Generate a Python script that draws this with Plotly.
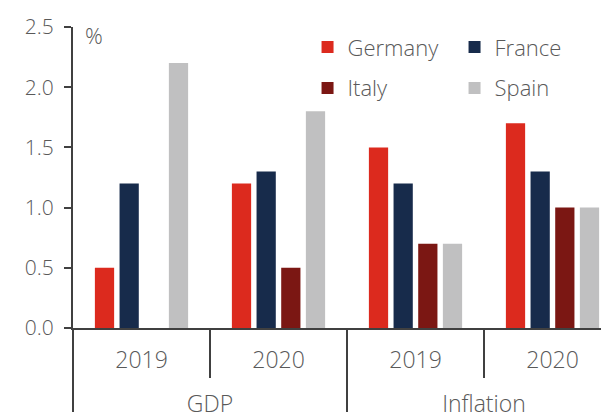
import plotly.graph_objects as go

# categories
indicators = ["GDP", "GDP", "Inflation", "Inflation"]
years = ["2019", "2020", "2019", "2020"]

# values, %
germany = [0.5, 1.2, 1.5, 1.7]
france = [1.2, 1.3, 1.2, 1.3]
italy = [0.0, 0.5, 0.7, 1.0]
spain = [2.2, 1.8, 0.7, 1.0]

y_ticks = [0.0, 0.5, 1.0, 1.5, 2.0, 2.5]
y_ticktext = ["0.0", "0.5", "1.0", "1.5", "2.0", "2.5"]

txt = "#595959"
axcol = "#404040"
font_family = "'Open Sans', sans-serif"

# invisible tall spacer around the year labels pushes the GDP/Inflation row down
pad = "<span style='font-size:38px'>\u00a0</span>"
year_labels = [pad + y + pad for y in years]

fig = go.Figure()
series = [("Germany", germany, "#DC2A1E", "legend"),
          ("France", france, "#172B4B", "legend"),
          ("Italy", italy, "#7B1713", "legend2"),
          ("Spain", spain, "#C0C0C1", "legend2")]
for name, vals, col, leg in series:
    fig.add_trace(go.Bar(x=[indicators, year_labels], y=vals, name=name,
                         marker=dict(color=col, line=dict(width=0)),
                         legend=leg))

fig.add_annotation(x=0, y=1, xref="paper", yref="paper", xshift=10, yshift=-8,
                   text="%", showarrow=False, xanchor="left", yanchor="middle",
                   font=dict(size=22, color=txt))

leg_common = dict(orientation="h", xanchor="left", yanchor="middle",
                  bgcolor="rgba(0,0,0,0)", entrywidth=102, entrywidthmode="pixels",
                  font=dict(size=22, color=txt, family=font_family, weight=300),
                  traceorder="normal")

# page has an 8px body margin, so the figure is offset by 8px
fig.update_layout(
    width=613, height=412,
    margin=dict(l=65, r=0, t=19, b=92),
    paper_bgcolor="white", plot_bgcolor="white",
    font=dict(family=font_family, size=20, color=txt, weight=300),
    barmode="group", bargap=0.28, bargroupgap=0.22,
    showlegend=True,
    legend=dict(x=0.428, y=0.933, **leg_common),
    legend2=dict(x=0.428, y=0.797, **leg_common),
    xaxis=dict(type="multicategory", range=[-0.5, 3.5],
               showline=True, linecolor=axcol, linewidth=2,
               ticks="outside", tickson="boundaries", ticklen=48, tickwidth=2,
               tickcolor=axcol, showdividers=True, dividercolor=axcol, dividerwidth=2,
               showgrid=False, zeroline=False, ticklabelstandoff=10,
               tickfont=dict(size=23, color=txt)),
    yaxis=dict(range=[0, 2.5], tickvals=y_ticks, ticktext=y_ticktext,
               showline=True, linecolor=axcol, linewidth=2,
               ticks="outside", ticklen=7, tickwidth=2, tickcolor=axcol,
               ticklabelstandoff=6, showgrid=False, zeroline=False,
               tickfont=dict(size=21, color=txt)),
)

fig.write_html("out.html")
